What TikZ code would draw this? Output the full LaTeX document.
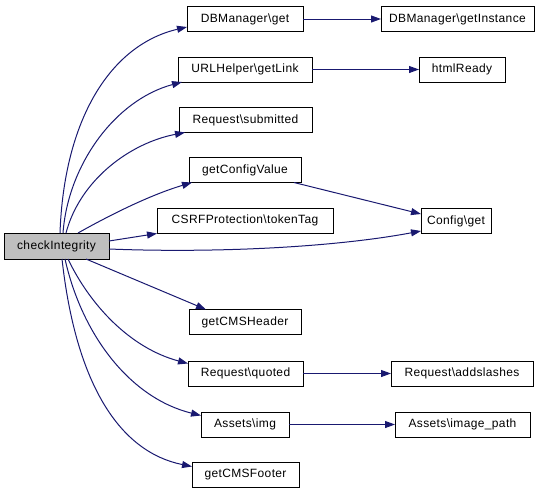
\documentclass[tikz,border=0pt]{standalone}
\usepackage{fontspec}
\setmainfont{Liberation Sans}[LetterSpace=3]
\usetikzlibrary{arrows.meta}
\definecolor{edgeblue}{HTML}{191970}
\definecolor{curgray}{HTML}{BFBFBF}
\tikzset{
  fn/.style={draw=black, line width=1pt, fill=white, inner sep=0pt, outer sep=0pt,
    minimum height=25pt, font=\fontsize{12}{14}\selectfont, anchor=center},
  cur/.style={fn, fill=curgray},
  call/.style={draw=edgeblue, line width=1pt, -{Triangle[length=10pt,width=7pt]}},
}
\begin{document}
\begin{tikzpicture}[x=1pt,y=-1pt]
\useasboundingbox (0,0) rectangle (549,493);
% nodes
\node[cur, minimum width=105pt, minimum height=26pt] (ci) at (56.5,246) {checkIntegrity};
\node[fn, minimum width=116pt] (dbget) at (245,19) {DBManager\textbackslash get};
\node[fn, minimum width=134pt] (url) at (245,69.5) {URLHelper\textbackslash getLink};
\node[fn, minimum width=133pt] (rsub) at (245.5,120) {Request\textbackslash submitted};
\node[fn, minimum width=112pt] (gcv) at (245,170) {getConfigValue};
\node[fn, minimum width=176pt] (csrf) at (245,220.5) {CSRFProtection\textbackslash tokenTag};
\node[fn, minimum width=70pt] (cfg) at (456,221) {Config\textbackslash get};
\node[fn, minimum width=153pt] (dbinst) at (457.5,19) {DBManager\textbackslash getInstance};
\node[fn, minimum width=86pt] (html) at (462,69.5) {htmlReady};
\node[fn, minimum width=112pt] (cmsh) at (245,322) {getCMSHeader};
\node[fn, minimum width=115pt] (rq) at (245.5,373.5) {Request\textbackslash quoted};
\node[fn, minimum width=88pt] (aimg) at (245,424.5) {Assets\textbackslash img};
\node[fn, minimum width=107pt] (cmsf) at (245.5,474.5) {getCMSFooter};
\node[fn, minimum width=142pt] (adds) at (462,373.5) {Request\textbackslash addslashes};
\node[fn, minimum width=135pt] (imgp) at (462.5,424.5) {Assets\textbackslash image\_path};
% edges from checkIntegrity (top)
\draw[call] ([xshift=56pt]ci.north west) .. controls (64,120) and (110,45) .. ([yshift=-8pt]dbget.west);
\draw[call] ([xshift=59pt]ci.north west) .. controls (68,165) and (115,100) .. ([xshift=4pt]url.south west);
\draw[call] ([xshift=62pt]ci.north west) .. controls (80,180) and (130,143) .. ([xshift=6pt]rsub.south west);
\draw[call] ([xshift=74pt]ci.north west) .. controls (110,215) and (150,195) .. ([xshift=3pt]gcv.south west);
\draw[call] ([yshift=5pt]ci.east) -- ([yshift=-13pt]csrf.west);
\draw[call] ([yshift=-3pt]ci.east) .. controls (210,253) and (330,248) .. ([yshift=-10pt]cfg.west);
% edges from checkIntegrity (bottom)
\draw[call] ([xshift=82pt]ci.south west) -- ([xshift=17pt]cmsh.north west);
\draw[call] ([xshift=64pt]ci.south west) .. controls (90,305) and (130,348) .. ([yshift=10pt]rq.west);
\draw[call] ([xshift=61pt]ci.south west) .. controls (82,335) and (130,398) .. ([yshift=9pt]aimg.west);
\draw[call] ([xshift=58pt]ci.south west) .. controls (76,385) and (120,452) .. ([yshift=8pt]cmsf.west);
% second level
\draw[call] ([xshift=-7pt]gcv.south east) -- ([yshift=7pt]cfg.west);
\draw[call] (dbget.east) -- (dbinst.west);
\draw[call] (url.east) -- (html.west);
\draw[call] (rq.east) -- (adds.west);
\draw[call] (aimg.east) -- (imgp.west);
\end{tikzpicture}
\end{document}
